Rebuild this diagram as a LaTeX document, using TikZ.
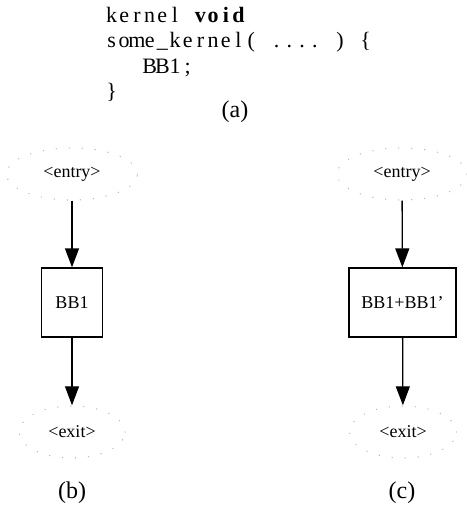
\documentclass[tikz,border=0pt]{standalone}
\usepackage{fontspec}
\setmainfont{Liberation Serif}
\usetikzlibrary{shapes.geometric,arrows.meta}

% one fixed column per character, as in a listing
\newcommand\codecols[1]{\codecolsnext#1\relax}
\def\codecolsnext#1{\ifx#1\relax\else\makebox[12.7pt]{#1}\expandafter\codecolsnext\fi}

\begin{document}
\begin{tikzpicture}[x=1pt, y=-1pt,
    term/.style={ellipse, draw=gray!60, line width=1.4pt, line cap=round,
      dash pattern=on 0pt off 13pt, inner sep=0pt, minimum height=52pt,
      font=\fontsize{18}{20}\selectfont},
    block/.style={rectangle, draw, line width=1.3pt, inner sep=0pt,
      minimum height=69pt, font=\fontsize{18}{20}\selectfont},
    arr/.style={-{Triangle[length=19pt,width=14pt]}, line width=1.3pt},
    caption/.style={anchor=base, inner sep=0pt, font=\fontsize{24}{26}\selectfont},
    code/.style={anchor=north west, inner sep=0pt, align=left,
      font=\fontsize{22}{25.5}\selectfont}]
  \useasboundingbox (0,0) rectangle (466,506);

  % (a) source
  \node[code] (src) at (105,7) {\codecols{kernel~}{\bfseries\codecols{void}}\\
    \codecols{some\_kernel(~....~)~\{}\\
    \codecols{~~~BB1;}\\
    \codecols{\}}};
  \node[caption] (capA) at (235,117.5) {(a)};

  % (b) original CFG
  \node[term, minimum width=131pt] (entryB) at (72,174) {<entry>};
  \node[block, minimum width=61pt] (bb1) at (72,302.5) {BB1};
  \node[term, minimum width=106pt] (exitB) at (72,432) {<exit>};
  \node[caption] (capB) at (72,498) {(b)};

  % (c) merged CFG
  \node[term, minimum width=130pt] (entryC) at (402,174) {<entry>};
  \node[block, minimum width=107pt] (bb1m) at (402.5,302.5) {BB1+BB1'};
  \node[term, minimum width=107pt] (exitC) at (403,432) {<exit>};
  \node[caption] (capC) at (402,498) {(c)};

  % Edges
  \foreach \x/\y in {entryB/bb1, bb1/exitB, entryC/bb1m, bb1m/exitC}
    \draw[arr] (\x) -- (\y);
\end{tikzpicture}
\end{document}
